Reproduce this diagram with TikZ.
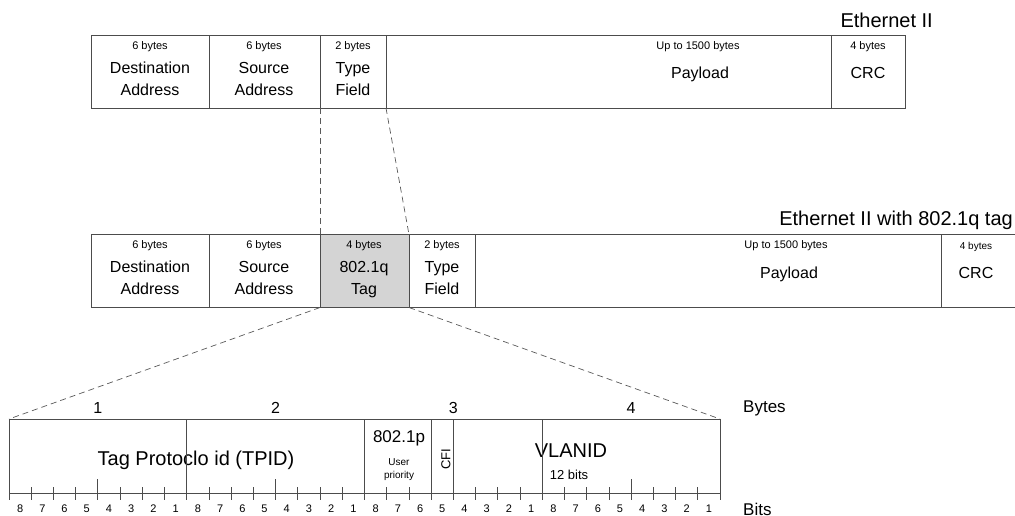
\documentclass[tikz,border=0pt]{standalone}
\usepackage{fontspec}
\setmainfont{Liberation Sans}
\usetikzlibrary{positioning}

\begin{document}
\begin{tikzpicture}[x=1pt, y=-1pt,
    cell/.style={draw=black!70, line width=0.8pt, minimum height=73pt, inner sep=0pt, outer sep=0pt},
    bytesz/.style={font=\fontsize{11}{13}\selectfont, inner sep=0pt, anchor=base},
    lbl/.style={font=\fontsize{16}{19}\selectfont, inner sep=0pt, anchor=base},
    frametitle/.style={font=\fontsize{20}{24}\selectfont, inner sep=0pt, anchor=base east},
    bitnum/.style={font=\fontsize{11}{13}\selectfont, inner sep=0pt, anchor=north},
    zoomline/.style={draw=black!65, dash pattern=on 6pt off 4pt, line width=0.7pt},
    tick/.style={draw=black!70, line width=0.8pt}
]
    \useasboundingbox (0,0) rectangle (1015,515);

    % Ethernet II frame
    \node[frametitle] (title1) at (933,27) {Ethernet II};
    \node[cell, minimum width=118pt] (dst1) at (150,71.5) {};
    \node[cell, minimum width=111pt] (src1) at (264.5,71.5) {};
    \node[cell, minimum width=66pt] (typ1) at (353,71.5) {};
    \node[cell, minimum width=445pt] (pay1) at (608.5,71.5) {};
    \node[cell, minimum width=74pt] (crc1) at (868,71.5) {};

    \node[bytesz] (dst1s) at (150,49) {6 bytes};
    \node[lbl] (dst1a) at (150,73) {Destination};
    \node[lbl] (dst1b) at (150,95) {Address};
    \node[bytesz] (src1s) at (264,49) {6 bytes};
    \node[lbl] (src1a) at (264,73) {Source};
    \node[lbl] (src1b) at (264,95) {Address};
    \node[bytesz] (typ1s) at (353,49) {2 bytes};
    \node[lbl] (typ1a) at (353,73) {Type};
    \node[lbl] (typ1b) at (353,95) {Field};
    \node[bytesz] (pay1s) at (698,49) {Up to 1500 bytes};
    \node[lbl] (pay1a) at (700,78) {Payload};
    \node[bytesz] (crc1s) at (868,49) {4 bytes};
    \node[lbl] (crc1a) at (868,78) {CRC};

    % Ethernet II with 802.1q tag
    \node[frametitle] (title2) at (1013,225) {Ethernet II with 802.1q tag};
    \node[cell, minimum width=118pt] (dst2) at (150,271) {};
    \node[cell, minimum width=111pt] (src2) at (264.5,271) {};
    \node[cell, minimum width=89pt, fill=black!17] (tag2) at (364.5,271) {};
    \node[cell, minimum width=66pt] (typ2) at (442,271) {};
    \node[cell, minimum width=466pt] (pay2) at (708,271) {};
    \node[cell, minimum width=79pt] (crc2) at (980.5,271) {};

    \node[bytesz] (dst2s) at (150,248) {6 bytes};
    \node[lbl] (dst2a) at (150,272) {Destination};
    \node[lbl] (dst2b) at (150,294) {Address};
    \node[bytesz] (src2s) at (264,248) {6 bytes};
    \node[lbl] (src2a) at (264,272) {Source};
    \node[lbl] (src2b) at (264,294) {Address};
    \node[bytesz] (tag2s) at (364,248) {4 bytes};
    \node[lbl] (tag2a) at (364,272) {802.1q};
    \node[lbl] (tag2b) at (364,294) {Tag};
    \node[bytesz] (typ2s) at (442,248) {2 bytes};
    \node[lbl] (typ2a) at (442,272) {Type};
    \node[lbl] (typ2b) at (442,294) {Field};
    \node[bytesz] (pay2s) at (786,248) {Up to 1500 bytes};
    \node[lbl] (pay2a) at (789,278) {Payload};
    \node[bytesz, font=\fontsize{10}{12}\selectfont] (crc2s) at (976,249) {4 bytes};
    \node[lbl] (crc2a) at (976,278) {CRC};

    % 802.1q tag fields
    \node[cell, minimum height=74pt, minimum width=355.52pt] (tpid) at (186.76,456) {};
    \node[cell, minimum height=74pt, minimum width=66.66pt] (pcp) at (397.85,456) {};
    \node[cell, minimum height=74pt, minimum width=22.22pt] (cfi) at (442.29,456) {};
    \node[cell, minimum height=74pt, minimum width=266.64pt] (vid) at (586.72,456) {};

    \node[lbl, font=\fontsize{20}{24}\selectfont] (tpidt) at (196,465) {Tag Protoclo id (TPID)};
    \node[lbl, font=\fontsize{17}{20}\selectfont] (pcpt) at (399,442) {802.1p};
    \node[bytesz, font=\fontsize{10}{12}\selectfont] (pcpa) at (399,465) {User};
    \node[bytesz, font=\fontsize{10}{12}\selectfont] (pcpb) at (399,478) {priority};
    \node[inner sep=0pt, font=\fontsize{13}{15}\selectfont, rotate=90] (cfit) at (446,459) {CFI};
    \node[lbl, font=\fontsize{20}{24}\selectfont] (vidt) at (571,457) {VLANID};
    \node[lbl, font=\fontsize{13}{15}\selectfont] (vidb) at (569,479) {12 bits};

    % bytes and bits scale
    \foreach \b in {1,...,4}
        \node[lbl] (byte\b) at ({9+(\b-0.5)*177.76},413) {\b};
    \node[lbl, anchor=base west, font=\fontsize{17}{20}\selectfont] (bytes) at (743,412) {Bytes};
    \node[lbl, anchor=north west, font=\fontsize{17}{20}\selectfont] (bits) at (743,503) {Bits};

    \foreach \i in {0,...,32}
        \draw[tick] ({9+\i*22.22},487) -- ({9+\i*22.22},500);
    \foreach \i in {4,12,20,28}
        \draw[tick] ({9+\i*22.22},479) -- ({9+\i*22.22},500);
    \foreach \i in {8,24}
        \draw[tick] ({9+\i*22.22},419) -- ({9+\i*22.22},500);
    \foreach \i in {0,...,31} {
        \pgfmathtruncatemacro\n{8-mod(\i,8)}
        \node[bitnum] (bit\i) at ({9+(\i+0.5)*22.22},505) {\n};
    }

    % zoom lines
    \draw[zoomline] (typ1.south west) -- (tag2.north west);
    \draw[zoomline] (typ1.south east) -- (tag2.north east);
    \draw[zoomline] (tag2.south west) -- (tpid.north west);
    \draw[zoomline] (tag2.south east) -- (vid.north east);
\end{tikzpicture}
\end{document}
